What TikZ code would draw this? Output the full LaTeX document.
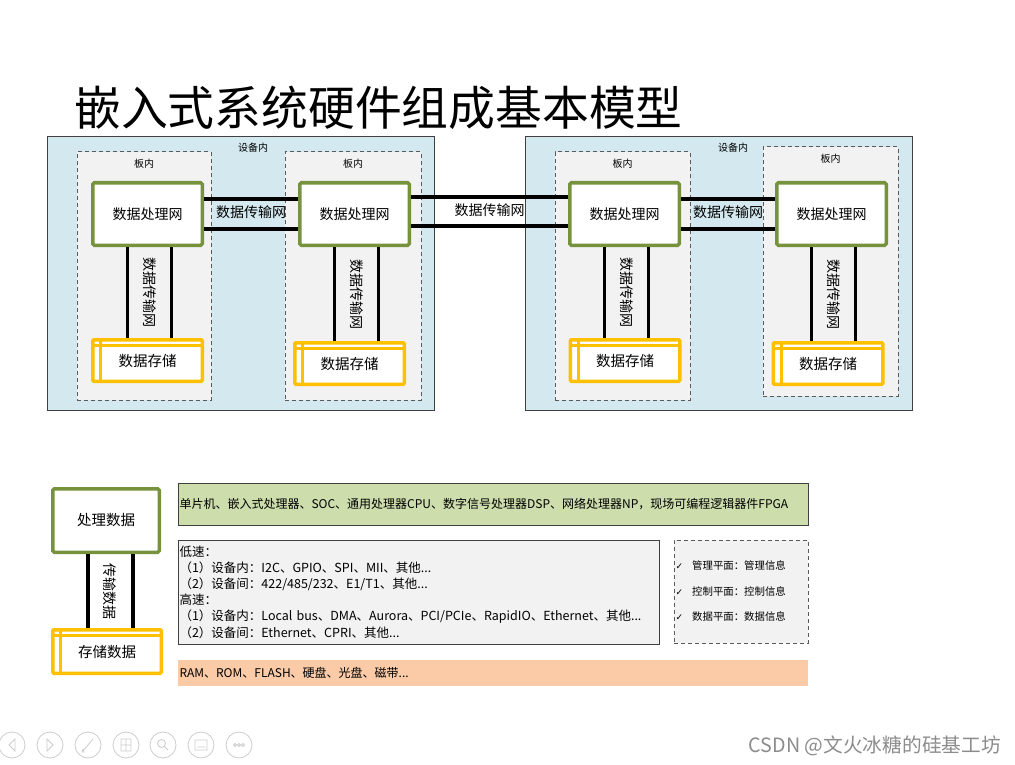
\documentclass[tikz,border=0pt]{standalone}
\usepackage{fontspec}
\setmainfont{Noto Sans CJK SC}
\newfontfamily\symfont{DejaVu Sans}
\usetikzlibrary{calc,positioning}

\definecolor{devblue}{RGB}{211,233,239}
\definecolor{boardgray}{RGB}{242,242,242}
\definecolor{procgreen}{RGB}{118,146,60}
\definecolor{storeyellow}{RGB}{255,192,0}
\definecolor{cpugreen}{RGB}{205,221,172}
\definecolor{memorange}{RGB}{250,203,166}
\definecolor{edgegray}{RGB}{64,64,64}
\definecolor{dashgray}{RGB}{90,90,90}
\definecolor{uigray}{RGB}{205,205,205}

\newcommand{\fsz}[1]{\fontsize{#1}{#1}\selectfont}

\begin{document}
\begin{tikzpicture}[x=1pt, y=-1pt, node distance=207pt]

    \tikzstyle{device}=[draw=edgegray, line width=1pt, fill=devblue, minimum width=387pt, minimum height=274pt, inner sep=0pt]
    \tikzstyle{board}=[draw=dashgray, line width=1pt, dash pattern=on 4pt off 3pt, fill=boardgray, inner sep=0pt]
    \tikzstyle{proc}=[draw=procgreen, line width=3.5pt, fill=white, rounded corners=1.5pt, minimum width=109.5pt, minimum height=62.5pt, inner sep=0pt, font=\fsz{14}]
    \tikzstyle{store}=[draw=storeyellow, line width=3.5pt, fill=white, rounded corners=1pt, minimum width=109.5pt, minimum height=41.5pt, inner sep=0pt, font=\fsz{14.5},
        path picture={
          \draw[storeyellow, line width=3pt] ([xshift=8pt]path picture bounding box.north west) -- ([xshift=8pt]path picture bounding box.south west);
          \draw[storeyellow, line width=3pt] ([yshift=-6pt]path picture bounding box.north west) -- ([yshift=-6pt]path picture bounding box.north east);}]
    \tikzstyle{link}=[draw=black, line width=3.5pt]
    \tikzstyle{netlabel}=[inner sep=0pt, font=\fsz{14}]
    \tikzstyle{vlabel}=[inner sep=0pt, rotate=-90, font=\fsz{14}]
    \tikzstyle{infobox}=[draw=edgegray, line width=0.8pt, align=left, inner xsep=1.5pt, inner ysep=0pt, font=\fontsize{12}{16.2}\selectfont]

    \useasboundingbox (0,0) rectangle (1015,765);
    \fill[white] (0,0) rectangle (1015,765);

    \node[anchor=west, inner sep=0pt, font=\fsz{46.8}] (title) at (74,108) {嵌入式系统硬件组成基本模型};

    % two devices, two boards each
    \node[device, label={[below=4pt, xshift=12pt, font=\fsz{10}]north:设备内}] (d1) at (241,273.5) {};
    \node[device, label={[below=4pt, xshift=14pt, font=\fsz{10}]north:设备内}] (d2) at (719,273.5) {};

    \node[board, minimum width=134pt, minimum height=248pt, label={[below=4pt, font=\fsz{10}]north:板内}] (b1) at (144,276) {};
    \node[board, minimum width=136pt, minimum height=248pt, label={[below=4pt, font=\fsz{10}]north:板内}] (b2) at (353,276) {};
    \node[board, minimum width=135pt, minimum height=248pt, label={[below=4pt, font=\fsz{10}]north:板内}] (b3) at (622.5,276) {};
    \node[board, minimum width=135pt, minimum height=249pt, label={[below=4pt, font=\fsz{10}]north:板内}] (b4) at (830.5,271.5) {};

    \node[proc] (p1) at (147.5,214) {数据处理网};
    \node[proc] (p2) [right of=p1]  {数据处理网};
    \node[proc] (p3) at (624.5,214) {数据处理网};
    \node[proc] (p4) [right of=p3]  {数据处理网};

    \node[store] (s1) at (147.5,360.5) {数据存储};
    \node[store] (s2) at (349.5,363.5) {数据存储};
    \node[store] (s3) at (625,360.5)   {数据存储};
    \node[store] (s4) at (828,363.5)   {数据存储};

    % transfer networks
    \path[link] ([yshift=15pt]p1.east)  edge ([yshift=15pt]p2.west)
                ([yshift=-15pt]p1.east) edge ([yshift=-15pt]p2.west)
                ([yshift=17pt]p2.east)  edge ([yshift=17pt]p3.west)
                ([yshift=-12pt]p2.east) edge ([yshift=-12pt]p3.west)
                ([yshift=15pt]p3.east)  edge ([yshift=15pt]p4.west)
                ([yshift=-15pt]p3.east) edge ([yshift=-15pt]p4.west);
    \foreach \p/\s in {p1/s1, p2/s2, p3/s3, p4/s4} {
      \path[link] ([xshift=-20pt]\p.south) edge ([xshift=-20pt]\p.south |- \s.north)
                  ([xshift=24pt]\p.south)  edge ([xshift=24pt]\p.south |- \s.north);
      \node[vlabel] (\p-net) at ($([xshift=2pt]\p.south)!0.5!([xshift=2pt]\p.south |- \s.north)$) {数据传输网};
    }
    \node[netlabel] (n12) at ($(p1.east)!0.5!(p2.west)+(0,-2)$) {数据传输网};
    \node[netlabel] (n23) at ($(p2.east)!0.5!(p3.west)+(0,-4)$) {数据传输网};
    \node[netlabel] (n34) at ($(p3.east)!0.5!(p4.west)+(0,-2)$) {数据传输网};

    % legend
    \node[proc, minimum width=106.5pt, minimum height=63.5pt, font=\fsz{14.5}] (lp) at (106,520.5) {处理数据};
    \node[store, minimum width=108.5pt, minimum height=43.5pt] (ls) at (107,651.5) {存储数据};
    \path[link] ([xshift=-18pt]lp.south) edge ([xshift=-18pt]lp.south |- ls.north)
                ([xshift=27pt]lp.south)  edge ([xshift=27pt]lp.south |- ls.north);
    \node[vlabel] (lnet) at ($([xshift=4pt]lp.south)!0.5!([xshift=4pt]lp.south |- ls.north)$) {传输数据};

    \node[infobox, fill=cpugreen, text width=627pt, minimum height=42pt] (cpu) at (493,504)
      {单片机、嵌入式处理器、SOC、通用处理器CPU、数字信号处理器DSP、网络处理器NP，现场可编程逻辑器件FPGA};
    \node[infobox, fill=boardgray, text width=478pt, minimum height=104pt, font=\fontsize{12.5}{16.2}\selectfont] (bus) at (418.5,592)
      {低速：\\
       （1）设备内：I2C、GPIO、SPI、MII、其他...\\
       （2）设备间：422/485/232、E1/T1、其他...\\
       高速：\\
       （1）设备内：Local bus、DMA、Aurora、PCI/PCIe、RapidIO、Ethernet、其他...\\
       （2）设备间：Ethernet、CPRI、其他...};
    \node[infobox, draw=none, fill=memorange, text width=627pt, minimum height=26pt] (mem) at (493,673)
      {RAM、ROM、FLASH、硬盘、光盘、磁带...};

    \node[board, minimum width=134pt, minimum height=103pt] (plane) at (741,591.5) {};
    \node[anchor=west, align=left, inner sep=0pt, font=\fontsize{10.4}{25.5}\selectfont] (planes) at ([xshift=2pt]plane.west)
      {{\symfont\fsz{9}✓}\hspace{9pt}管理平面：管理信息\\
       {\symfont\fsz{9}✓}\hspace{9pt}控制平面：控制信息\\
       {\symfont\fsz{9}✓}\hspace{9pt}数据平面：数据信息};

    % slide toolbar and watermark
    \foreach \x in {12,50,88,126,163,201,239}
      \draw[uigray, line width=0.8pt] (\x,745) circle (13pt);
    \draw[uigray, line width=0.8pt] (15,739) -- (9,745) -- (15,751) -- cycle
                                    (47,739) -- (53,745) -- (47,751) -- cycle
                                    (83,751) -- (93,739) (85,752) -- (82,752) -- (83,749)
                                    (121,739) rectangle (131,751) (126,739) -- (126,751) (121,745) -- (131,745)
                                    (161.5,743.5) circle (4pt) (164.5,746.5) -- (168,750)
                                    (195,740) rectangle (207,750) (197,747) -- (205,747)
                                    (235,745) circle (1.5pt) (239,745) circle (1.5pt) (243,745) circle (1.5pt);
    \node[anchor=east, inner sep=0pt, text=black!45, font=\fsz{19.7}] (mark) at (1001,746) {CSDN @文火冰糖的硅基工坊};

\end{tikzpicture}
\end{document}
